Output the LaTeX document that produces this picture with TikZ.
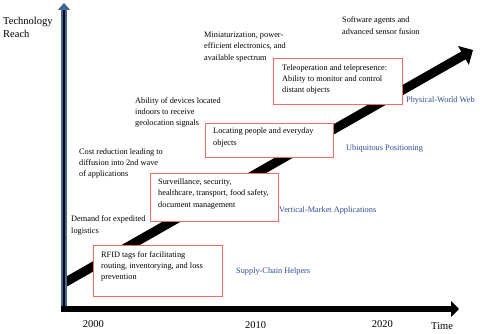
\documentclass[tikz,border=0pt]{standalone}
\usepackage{fontspec}
\setmainfont{Liberation Serif}
\usepackage{xcolor}
\definecolor{tlred}{HTML}{F06A6A}
\definecolor{tlblue}{HTML}{2E4B8C}
\definecolor{tlaxis}{HTML}{41649B}
\usepackage{tikz}
\usetikzlibrary{arrows.meta}

\begin{document}
\begin{tikzpicture}[
    x=1pt, y=-1pt,
    notetext/.style={anchor=base west, inner sep=0pt, align=left,
                 font=\fontsize{8.3}{11.2}\selectfont},
    phasebox/.style={anchor=north west, draw=tlred, line width=1pt, fill=white,
                 inner sep=0pt},
    phaselabel/.style={anchor=base west, inner sep=0pt, text=tlblue,
                 font=\fontsize{8.3}{11.2}\selectfont},
    yearlabel/.style={anchor=base west, inner sep=0pt,
                 font=\fontsize{10.5}{13}\selectfont},
  ]
    \useasboundingbox (0,0) rectangle (480,334);
    \coordinate (origin) at (64,311);
    \coordinate (ytop) at (64,3);
    \coordinate (xstart) at (61,309);
    \coordinate (xtip) at (459,309);
    \coordinate (trendstart) at (64,283);
    \coordinate (trendtip) at (473,50);
    \draw[line width=9pt, -{Triangle[length=11pt, width=21pt]}] (trendstart) -- (trendtip);
    \draw[line width=6pt, tlaxis, -{Triangle[length=7pt, width=12pt]}] (origin) -- (ytop);
    \draw[line width=2.4pt] (origin) -- ([yshift=-7pt]ytop);
    \draw[line width=6pt, -{Triangle[length=8pt, width=16pt]}] (xstart) -- (xtip);
    \node[phasebox, minimum width=129pt, minimum height=51pt] (rfidbox) at (93,245) {};
    \node[phasebox, minimum width=128pt, minimum height=48pt] (survbox) at (150,173) {};
    \node[phasebox, minimum width=128pt, minimum height=34pt] (locbox) at (205,123) {};
    \node[phasebox, minimum width=129pt, minimum height=46pt] (telebox) at (273,58) {};
    \node[notetext] (rfid) at (101,279.8) {RFID tags for facilitating\\routing, inventorying, and loss\\prevention};
    \node[notetext] (surv) at (158,207.2) {Surveillance, security,\\healthcare, transport, food safety,\\document management};
    \node[notetext] (loc) at (213,145.2) {Locating people and everyday\\objects};
    \node[notetext] (tele) at (282,92.5) {Teleoperation and telepresence:\\Ability to monitor and control\\distant objects};
    \node[notetext] (demand) at (71,233.2) {Demand for expedited\\logistics};
    \node[notetext] (cost) at (79,176.5) {Cost reduction leading to\\diffusion into 2nd wave\\of applications};
    \node[notetext] (ability) at (135,125.8) {Ability of devices located\\indoors to receive\\geolocation signals};
    \node[notetext] (miniature) at (204,60.2) {Miniaturization, power-\\efficient electronics, and\\available spectrum};
    \node[notetext] (software) at (342,34.2) {Software agents and\\advanced sensor fusion};
    \node[phaselabel] (supply) at (236,273.5) {Supply-Chain Helpers};
    \node[phaselabel] (vertical) at (279,212.5) {Vertical-Market Applications};
    \node[phaselabel] (ubiq) at (346,150.5) {Ubiquitous Positioning};
    \node[phaselabel] (physical) at (406,102.5) {Physical-World Web};
    \node[notetext, font=\fontsize{10.5}{13}\selectfont] (reach) at (3,37.5) {Technology\\Reach};
    \node[yearlabel] (y2000) at (82.7,327.5) {2000};
    \node[yearlabel] (y2010) at (245,328.5) {2010};
    \node[yearlabel] (y2020) at (371.7,327) {2020};
    \node[yearlabel] (time) at (431,329.5) {Time};
  \end{tikzpicture}
\end{document}
